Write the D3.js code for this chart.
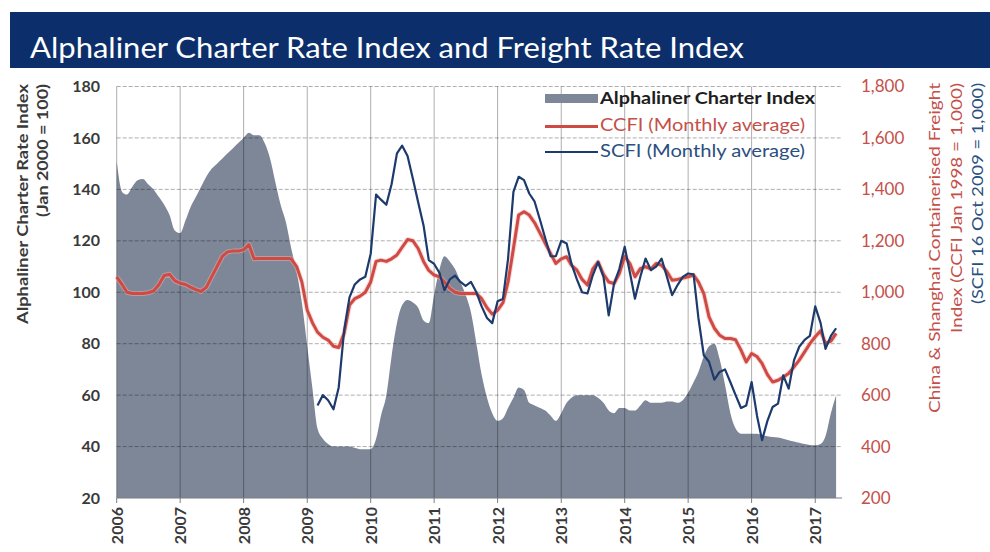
<!DOCTYPE html>
<html>
<head>
<meta charset="utf-8">
<script src="https://cdn.jsdelivr.net/npm/d3@7"></script>
<style>
  body { margin: 0; background: #fff; }
  svg { display: block; font-family: Lato, "Open Sans", sans-serif; }
</style>
</head>
<body>
<svg id="chart" width="990" height="552"></svg>
<script>
// monthly values, Jan 2006 .. May 2017
const startYear = 2006;
const charterIndex = [
  151, 139, 138, 141, 143.5, 144, 142, 140, 137, 134, 130, 124,
  123, 128, 133, 137, 141, 145, 148, 150, 152, 154, 156, 158,
  160, 162, 161, 161, 158, 152, 143, 134, 127, 117, 108, 96,
  79, 62, 47, 43, 41, 40, 40, 40, 40, 39.5, 39, 39,
  39, 43, 52, 60, 75, 88, 95, 97, 96, 94, 89, 88,
  99, 109, 114, 112, 109, 104, 99, 92, 80, 68, 59, 53,
  50, 51, 55, 59, 63, 62, 57, 56, 55, 54, 52, 50,
  53, 57, 59, 60, 60, 60, 60, 59, 57, 54, 53, 55,
  55, 54, 54, 56, 58, 57, 57, 57, 57.5, 57.5, 57, 58,
  61, 65, 69, 75, 79, 80, 74, 64, 53, 47, 45, 45,
  45, 45, 44.5, 44, 43.7, 43.5, 43, 42.5, 42, 41.5, 41, 40.6,
  40.5, 41, 44, 53, 60
];
const ccfi = [
  1060, 1030, 1000, 995, 995, 995, 998, 1005, 1030, 1065, 1070, 1045,
  1035, 1030, 1020, 1010, 1003, 1020, 1060, 1100, 1140, 1157, 1160, 1160,
  1165, 1185, 1130, 1131, 1131, 1131, 1131, 1131, 1131, 1130, 1100, 1040,
  930, 880, 845, 825, 814, 790, 785, 840, 950, 975, 985, 1000,
  1040, 1120, 1125, 1120, 1130, 1145, 1175, 1205, 1200, 1170, 1120, 1085,
  1067, 1060, 1040, 1015, 1000, 995, 995, 995, 995, 975, 940, 915,
  930, 960, 1040, 1170, 1300, 1313, 1300, 1270, 1230, 1190, 1150, 1112,
  1130, 1138, 1105, 1086, 1050, 1028, 1090, 1118, 1070, 1040, 1034, 1073,
  1140, 1110, 1060, 1092, 1100, 1090, 1112, 1105, 1080, 1047, 1050, 1055,
  1060, 1067, 1040, 995, 904, 860, 833, 820, 820, 815, 775, 729,
  762, 750, 723, 680, 651, 658, 670, 684, 710, 736, 768, 800,
  827, 850, 801, 810, 840
];
// SCFI starts at month index 38
const scfiStart = 38;
const scfi = [
  560, 600, 580, 545, 630, 850, 980, 1030, 1050, 1060,
  1150, 1380, 1360, 1340, 1420, 1540, 1570, 1530, 1440, 1350, 1260, 1125,
  1110, 1075, 1008, 1050, 1065, 1040, 1025, 1040, 1000, 945, 900, 880,
  965, 975, 1130, 1390, 1449, 1436, 1384, 1352, 1281, 1210, 1140, 1140,
  1200, 1190, 1110, 1050, 1000, 995, 1065, 1118, 1060, 910, 1034, 1090,
  1177, 1073, 975, 1060, 1131, 1086, 1100, 1131, 1060, 989, 1028, 1060,
  1073, 1070, 900, 755, 730, 660, 690, 700, 650, 600, 550, 560,
  651, 520, 425, 500, 554, 567, 677, 625, 736, 788, 815, 830,
  945, 880, 780, 830, 860
];
const leftTicks = [20, 40, 60, 80, 100, 120, 140, 160, 180];
const rightTicks = [200, 400, 600, 800, 1000, 1200, 1400, 1600, 1800];
const legendLabels = ['Alphaliner Charter Index', 'CCFI (Monthly average)', 'SCFI (Monthly average)'];

const svg = d3.select('#chart');
const plotLeft = 116.7, plotRight = 842, plotTop = 86.5, plotBottom = 498;

const monthDate = (i) => new Date(startYear, i, 1);

const x = d3.scaleTime()
  .domain([monthDate(0), monthDate(charterIndex.length - 1)])
  .range([plotLeft, 836.1]);
const yL = d3.scaleLinear().domain([20, 180]).range([plotBottom, plotTop]);
const yR = d3.scaleLinear().domain([200, 1800]).range([plotBottom, plotTop]);

const colArea = '#7e8798';
const colRed = '#cf4a44';
const colBlue = '#1d3a6c';
const colRedText = '#c4504a';
const colBlueText = '#2a4f80';

// title bar
svg.append('rect')
  .attr('x', 10).attr('y', 12).attr('width', 980).attr('height', 56)
  .attr('fill', '#0c2f6b');
svg.append('text')
  .attr('x', 30).attr('y', 58)
  .attr('fill', '#fff')
  .attr('font-size', 28)
  .attr('textLength', 714)
  .attr('lengthAdjust', 'spacingAndGlyphs')
  .text('Alphaliner Charter Rate Index and Freight Rate Index');

const years = d3.timeYear.range(new Date(2006, 0, 1), new Date(2018, 0, 1));

// area
const areaData = charterIndex.map((v, i) => ({ date: monthDate(i), v }));
svg.append('path')
  .datum(areaData)
  .attr('fill', colArea)
  .attr('d', d3.area()
    .curve(d3.curveMonotoneX)
    .x((d) => x(d.date))
    .y0(plotBottom)
    .y1((d) => yL(d.v)));

// translucent grid: light on white, darker over the area
const grid = svg.append('g')
  .attr('stroke', '#000')
  .attr('stroke-opacity', 0.32)
  .attr('stroke-width', 1);
grid.selectAll('line.v')
  .data(years)
  .join('line')
  .attr('class', 'v')
  .attr('x1', (d) => x(d)).attr('x2', (d) => x(d))
  .attr('y1', plotTop).attr('y2', plotBottom);
grid.selectAll('line.h')
  .data(leftTicks.slice(1))
  .join('line')
  .attr('class', 'h')
  .attr('x1', plotLeft).attr('x2', plotRight)
  .attr('y1', (d) => yL(d)).attr('y2', (d) => yL(d))
  .attr('stroke-dasharray', '4,2');

// x axis line and tick marks
svg.append('line')
  .attr('x1', plotLeft).attr('x2', plotRight)
  .attr('y1', plotBottom).attr('y2', plotBottom)
  .attr('stroke', '#7a7d82');
svg.append('g')
  .selectAll('line')
  .data(years)
  .join('line')
  .attr('x1', (d) => x(d)).attr('x2', (d) => x(d))
  .attr('y1', plotBottom).attr('y2', plotBottom + 5)
  .attr('stroke', '#7a7d82');

// lines
const ccfiData = ccfi.map((v, i) => ({ date: monthDate(i), v }));
const scfiData = scfi.map((v, i) => ({ date: monthDate(i + scfiStart), v }));
const lineR = d3.line().x((d) => x(d.date)).y((d) => yR(d.v));

svg.append('path')
  .datum(ccfiData)
  .attr('fill', 'none')
  .attr('stroke', '#f2b3ae')
  .attr('stroke-width', 5)
  .attr('stroke-opacity', 0.5)
  .attr('stroke-linejoin', 'round')
  .attr('d', lineR);
svg.append('path')
  .datum(ccfiData)
  .attr('fill', 'none')
  .attr('stroke', colRed)
  .attr('stroke-width', 3)
  .attr('stroke-linejoin', 'round')
  .attr('d', lineR);

svg.append('path')
  .datum(scfiData)
  .attr('fill', 'none')
  .attr('stroke', colBlue)
  .attr('stroke-width', 2.2)
  .attr('stroke-linejoin', 'round')
  .attr('d', lineR);

// left axis
svg.append('g')
  .selectAll('text')
  .data(leftTicks)
  .join('text')
  .attr('x', 100)
  .attr('y', (d) => yL(d))
  .attr('dy', '0.35em')
  .attr('text-anchor', 'end')
  .attr('font-size', 16)
  .attr('font-weight', 'bold')
  .attr('fill', '#3a3a3a')
  .text((d) => d);

// right axis
const fmt = d3.format(',');
svg.append('g')
  .selectAll('text')
  .data(rightTicks)
  .join('text')
  .attr('x', 861)
  .attr('y', (d) => yR(d))
  .attr('dy', '0.35em')
  .attr('font-size', 17)
  .attr('fill', colRedText)
  .text((d) => fmt(d));

// bottom axis labels
svg.append('g')
  .selectAll('text')
  .data(years)
  .join('text')
  .attr('transform', (d) => `translate(${x(d) + 6},507) rotate(-90)`)
  .attr('text-anchor', 'end')
  .attr('font-size', 16)
  .attr('font-weight', 'bold')
  .attr('fill', '#3a3a3a')
  .text((d) => d.getFullYear());

// axis titles
function vText(tx, ty, str, len, color, weight) {
  svg.append('text')
    .attr('transform', `translate(${tx},${ty}) rotate(-90)`)
    .attr('text-anchor', 'end')
    .attr('font-size', 15)
    .attr('font-weight', weight)
    .attr('fill', color)
    .attr('textLength', len)
    .attr('lengthAdjust', 'spacingAndGlyphs')
    .text(str);
}
vText(28, 84, 'Alphaliner Charter Rate Index', 240, '#3a3a3a', 'bold');
vText(48, 84, '(Jan 2000 = 100)', 133, '#3a3a3a', 'bold');
vText(940, 83, 'China & Shanghai  Containerised Freight', 330, colRedText, 'normal');
vText(962, 83, 'Index  (CCFI Jan 1998 = 1,000)', 250, colRedText, 'normal');
vText(983, 83, '(SCFI 16 Oct 2009 = 1,000)', 221, colBlueText, 'normal');

// legend
const legend = svg.append('g');
legend.append('rect')
  .attr('x', 545).attr('y', 94).attr('width', 53).attr('height', 9)
  .attr('fill', colArea);
legend.append('line')
  .attr('x1', 545).attr('x2', 598).attr('y1', 126.5).attr('y2', 126.5)
  .attr('stroke', colRed).attr('stroke-width', 3);
legend.append('line')
  .attr('x1', 545).attr('x2', 598).attr('y1', 152).attr('y2', 152)
  .attr('stroke', colBlue).attr('stroke-width', 2);
const legendColors = ['#1e1e1e', colRedText, colBlueText];
const legendWeights = ['bold', 'normal', 'normal'];
const legendLens = [215, 205, 205];
legend.selectAll('text.lab')
  .data(legendLabels)
  .join('text')
  .attr('class', 'lab')
  .attr('x', 600)
  .attr('y', (d, i) => 104 + i * 26.5)
  .attr('font-size', 17)
  .attr('font-weight', (d, i) => legendWeights[i])
  .attr('fill', (d, i) => legendColors[i])
  .attr('textLength', (d, i) => legendLens[i])
  .attr('lengthAdjust', 'spacingAndGlyphs')
  .text((d) => d);
</script>
</body>
</html>
